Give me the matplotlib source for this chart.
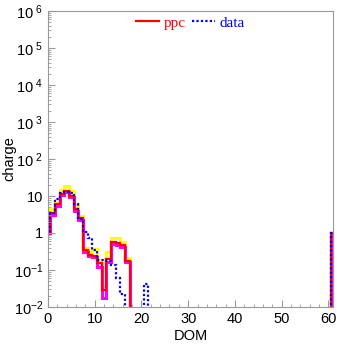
import numpy as np
import matplotlib
matplotlib.use("Agg")
import matplotlib.pyplot as plt
from matplotlib.ticker import FixedLocator, LogLocator, MultipleLocator, NullFormatter

plt.rcParams['font.family'] = ['Liberation Sans', 'DejaVu Sans']
plt.rcParams['mathtext.default'] = 'regular'

# DOM numbers 0..61, one bin per DOM
dom = np.arange(0, 62)

# ppc central value, DOMs 0..17 (rest zero, DOM 61 = 1)
ppc_head = [1, 3.4, 6.0, 11.3, 13.9, 10.0, 4.4, 2.5, 0.35, 0.26, 0.24,
            0.15, 0.029, 0.2, 0.58, 0.53, 0.48, 0.18]
ppc_hi_head = [1, 4.4, 6.5, 14.4, 18.6, 13.8, 6.0, 2.8, 0.39, 0.28, 0.36,
               0.19, 0.036, 0.3, 0.72, 0.72, 0.56, 0.21]
ppc_lo_head = [1, 3.0, 5.5, 10.5, 13.0, 9.5, 4.0, 2.2, 0.30, 0.24, 0.22,
               0.12, 0.017, 0.16, 0.50, 0.47, 0.42, 0.16]
data_head = [1, 3.4, 8.1, 12.3, 13.2, 12.3, 6.0, 2.35, 1.08, 0.72, 0.34,
             0.19, 0.19, 0.18, 0.14, 0.06, 0.022, 0, 0, 0, 0, 0.042]


def full(head, last=1.0):
    v = np.zeros(len(dom))
    v[:len(head)] = head
    v[-1] = last
    return v


ppc = full(ppc_head)
ppc_hi = full(ppc_hi_head)
ppc_lo = full(ppc_lo_head)
data = full(data_head)
edges = np.append(dom - 0.5, dom[-1] + 0.5)

fig = plt.figure(figsize=(3.37, 3.44), dpi=100)
ax = fig.add_axes([48/337, 37/344, 285/337, 296/344])

ax.stairs(ppc_hi, edges, baseline=None, color='yellow', lw=2.2)
ax.stairs(ppc_lo, edges, baseline=None, color='magenta', lw=2.2)
ax.stairs(ppc, edges, baseline=None, color='red', lw=1.6, label='ppc')
ax.stairs(data, edges, baseline=None, color='blue', lw=1.6, ls=(0, (1, 1)), label='data')

ax.set_yscale('log')
ax.set_xlim(0, 61)
ax.set_ylim(1e-2, 1e6)

yt = [1e-2, 1e-1, 1, 10, 1e2, 1e3, 1e4, 1e5, 1e6]
ylab = ['10$^{-2}$', '10$^{-1}$', '1', '10', '10$^{\\ 2}$', '10$^{\\ 3}$',
        '10$^{\\ 4}$', '10$^{\\ 5}$', '10$^{\\ 6}$']
ax.yaxis.set_major_locator(FixedLocator(yt))
ax.set_yticklabels(ylab)
ax.yaxis.set_minor_locator(LogLocator(base=10, subs=np.arange(2, 10), numticks=20))
ax.yaxis.set_minor_formatter(NullFormatter())
ax.xaxis.set_major_locator(MultipleLocator(10))
ax.xaxis.set_minor_locator(MultipleLocator(2))

for s in ax.spines.values():
    s.set_color('#999999')
ax.tick_params(which='both', direction='in', color='#999999', labelsize=10.5)
ax.tick_params(which='major', length=5)
ax.tick_params(which='minor', length=2.5)

ax.set_xlabel('DOM', fontsize=10.5, labelpad=2)
ax.set_ylabel('charge', fontsize=10.5)
ax.yaxis.set_label_coords(-0.112, 0.5)

ax.legend(loc='upper center', bbox_to_anchor=(0.5, 1.025), ncol=2, frameon=False,
          prop={'family': 'Liberation Serif', 'size': 11}, labelcolor='linecolor',
          handlelength=1.5, handletextpad=0.3, columnspacing=0.4, borderpad=0.3)

fig.savefig('out.png', dpi=100)
